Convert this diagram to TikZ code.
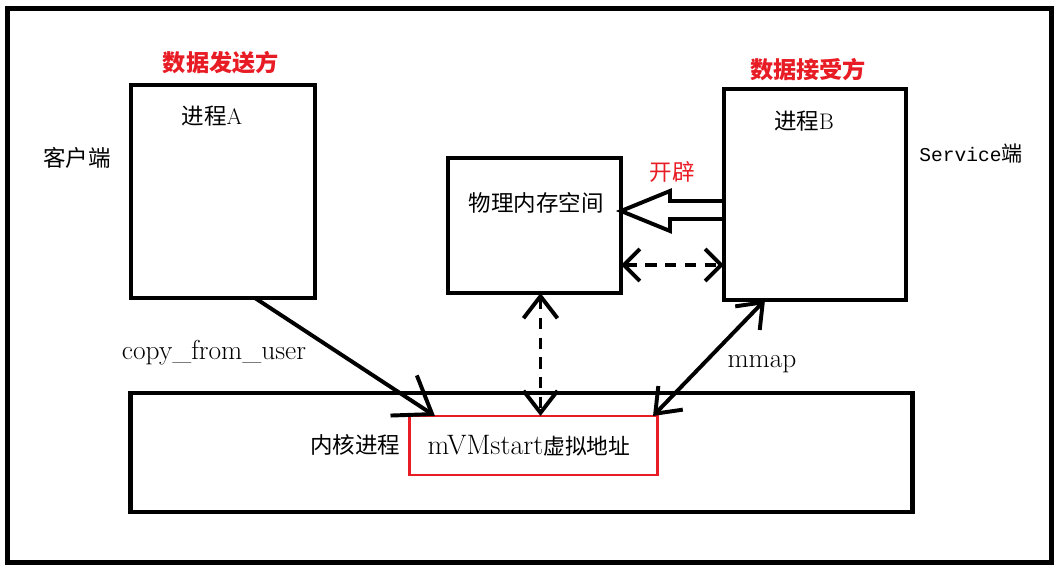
\documentclass[tikz,border=0pt]{standalone}
\usepackage{fontspec}
\newfontfamily\cjk{Noto Sans CJK SC}
\newfontfamily\monofnt{Liberation Mono}
\usetikzlibrary{arrows.meta,
                calc}
\definecolor{markred}{RGB}{232,28,36}

\begin{document}
\begin{tikzpicture}[
x=0.025cm, y=-0.025cm,
   box/.style = {draw, line width=3.5pt, inner sep=0pt, outer sep=0pt},
   han/.style = {font=\cjk\fontsize{16}{18}\selectfont, inner sep=1pt},
   rom/.style = {font=\fontsize{19.5}{22}\selectfont, inner sep=1pt},
 title/.style = {font=\cjk\bfseries\fontsize{16.5}{18}\selectfont,
                 text=markred, inner sep=1pt},
  link/.style = {line width=2.8pt, line cap=round, line join=round},
 dashlink/.style = {link, line cap=butt, dash pattern=on 8pt off 6pt},
 bigbarb/.tip = {Straight Barb[length=8.5mm, width=12mm]},
 midbarb/.tip = {Straight Barb[length=5.5mm, width=8.5mm]},
 lowbarb/.tip = {Straight Barb[length=4mm, width=8mm]},
                        ]
\useasboundingbox (0,0) rectangle (1059,569);
\draw[line width=3.5pt] (7.5,8.5) rectangle (1051.5,562.5);

% the three boxes on top and the kernel below
\node[box, minimum width=4.6cm,  minimum height=5.325cm] (procA)  at (223,191.5) {};
\node[box, minimum width=4.55cm, minimum height=5.275cm] (procB)  at (815,194.5) {};
\node[box, minimum width=4.325cm,minimum height=3.375cm] (memory) at (534.5,225.5) {};
\node[box, minimum width=19.525cm,minimum height=2.975cm] (kernel) at (521.5,452.5) {};
\node[draw=markred, line width=2.1pt, inner sep=0pt, outer sep=0pt,
      minimum width=6.175cm, minimum height=1.475cm] (vaddr) at (533.5,445.5) {};
\node[inner sep=0pt] (vaddrT) at (529,446)
     {\fontsize{20}{24}\selectfont mVMstart\cjk\fontsize{15.5}{16}\selectfont 虚拟地址};

\node[title] (sendT) at (221,63)  {数据发送方};
\node[title] (recvT) at (808,70)  {数据接受方};
\node[han]   (procAT) at (212,116) {进程\fontspec{Latin Modern Roman}A};
\node[han]   (procBT) at (804,121) {进程\fontspec{Latin Modern Roman}B};
\node[han]   (client) at (77,158)  {客户端};
\node[font=\monofnt\fontsize{13.9}{16}\selectfont, inner sep=1pt] (server) at (971,154)
     {Service\cjk\fontsize{15}{16}\selectfont 端};
\node[han]   (memT)   at (536,203) {物理内存空间};
\node[han, text=markred] (alloc) at (672,172) {开辟};
\node[han]   (kernT)  at (355,445) {内核进程};
\node[rom]   (copyT)  at (214,353) {copy\_from\_user};
\node[rom]   (mmapT)  at (762,364) {mmap};

% connectors
\coordinate (cpA)  at ($(procA.south)+(32,0)$);
\coordinate (cpV)  at ($(vaddr.north west)+(25,0)$);
\draw[link, -bigbarb] (cpA) -- (cpV);

\coordinate (mmB)  at ($(procB.south)+(-50,0)$);
\coordinate (mmV)  at ($(vaddr.north east)+(-4,0)$);
\draw[link, midbarb-midbarb] (mmB) -- (mmV);

\coordinate (memS) at ($(memory.south)+(6,0)$);
\draw[dashlink, midbarb-midbarb] (memS) -- (memS |- vaddr.north);

\coordinate (memE) at ($(memory.east)+(0,39.5)$);
\draw[dashlink, lowbarb-lowbarb] (memE) -- (memE -| procB.west);

\coordinate (tipM) at ($(memory.east)+(0,-14.5)$);
\coordinate (tailB) at (tipM -| procB.west);
\draw[line width=2.8pt, fill=white, line join=miter]
    (tipM) -- ++(49,-20) -- ++(0,10) -- ($(tailB)+(0,-10)$)
    -- ($(tailB)+(0,8)$) -- ($(tipM)+(49,8)$) -- ++(0,12) -- cycle;
\end{tikzpicture}
\end{document}
